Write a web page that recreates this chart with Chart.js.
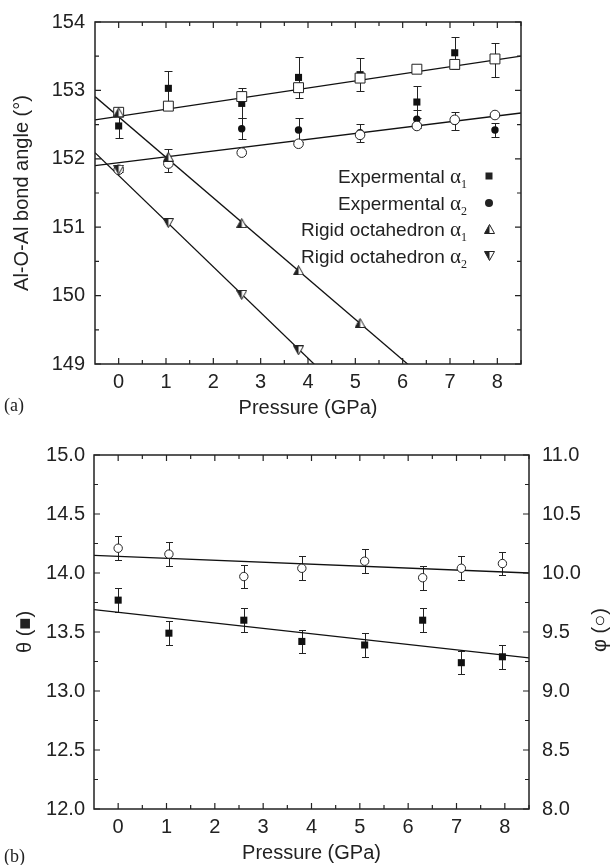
<!DOCTYPE html>
<html lang="en">
<head>
  <meta charset="UTF-8"/>
  <title>Al-O-Al bond angle vs pressure</title>
  <script src="https://cdn.jsdelivr.net/npm/chart.js"></script>
  <style>
    body { margin: 0; background: #fff; }
    .panel { position: absolute; left: 0; width: 613px; }
    #panelA { top: 0; height: 430px; }
    #panelB { top: 430px; height: 435px; }
  </style>
</head>
<body>
  <div class="panel" id="panelA"><canvas id="chartA" width="613" height="430"></canvas></div>
  <div class="panel" id="panelB"><canvas id="chartB" width="613" height="435"></canvas></div>

  <script>
    // ---- panel (a): bond angles ----
    const pressure = [0, 1.05, 2.6, 3.8, 5.1, 6.3, 7.1, 7.95];
    const expAlpha1 = [152.48, 153.03, 152.81, 153.19, 153.23, 152.83, 153.55, 153.45];
    const expAlpha1Err = [0.18, 0.26, 0.22, 0.30, 0.24, 0.23, 0.23, 0.25];
    const expAlpha2 = [151.84, 151.98, 152.44, 152.42, 152.38, 152.58, 152.55, 152.42];
    const expAlpha2Err = [0.04, 0.17, 0.15, 0.18, 0.13, 0.13, 0.13, 0.10];
    const openSquares = [152.68, 152.77, 152.91, 153.04, 153.18, 153.31, 153.38, 153.46];
    const openCircles = [151.84, 151.93, 152.09, 152.22, 152.35, 152.48, 152.57, 152.64];
    const rigidP1 = [0, 1.05, 2.6, 3.8, 5.1];
    const rigidAlpha1 = [152.68, 152.03, 151.06, 150.37, 149.60];
    const rigidP2 = [0, 1.05, 2.6, 3.8];
    const rigidAlpha2 = [151.84, 151.06, 150.01, 149.20];
    // straight fits, values at the two ends of the pressure axis
    const fitEnds = [-0.5, 8.5];
    const fitSquares = [152.57, 153.50];
    const fitCircles = [151.90, 152.67];
    const fitRigid1 = [152.91, 147.58];
    const fitRigid2 = [152.09, 146.08];
    const angleTicks = [149, 150, 151, 152, 153, 154];
    const pressureTicks = [0, 1, 2, 3, 4, 5, 6, 7, 8];
    const legendText = ['Expermental', 'Expermental', 'Rigid octahedron', 'Rigid octahedron'];
    const legendSub = ['1', '2', '1', '2'];

    // ---- panel (b): theta / phi ----
    const theta = [13.77, 13.49, 13.60, 13.42, 13.39, 13.60, 13.24, 13.29];
    const thetaErr = [0.10, 0.10, 0.10, 0.10, 0.10, 0.10, 0.10, 0.10];
    const phi = [10.21, 10.16, 9.97, 10.04, 10.10, 9.96, 10.04, 10.08];
    const phiErr = [0.10, 0.10, 0.10, 0.10, 0.10, 0.10, 0.10, 0.10];
    const fitTheta = [13.69, 13.28];
    const fitPhi = [10.15, 10.00];
    const thetaTicks = [12, 12.5, 13, 13.5, 14, 14.5, 15];
    const phiTicks = [8, 8.5, 9, 9.5, 10, 10.5, 11];

    const INK = '#222';
    const SANS = "'Liberation Sans', Arial, sans-serif";
    const SERIF = "'Liberation Serif', 'Times New Roman', serif";
    Chart.defaults.font.family = SANS;
    Chart.defaults.color = INK;

    const pts = (xs, ys) => xs.map((x, i) => ({ x: x, y: ys[i] }));
    const mids = arr => arr.slice(0, -1).map((v, i) => (v + arr[i + 1]) / 2);

    // half-filled triangles used by the rigid octahedron series
    function triangle(down) {
      const c = document.createElement('canvas');
      c.width = 11; c.height = 10;
      const g = c.getContext('2d');
      g.fillStyle = '#fff';
      g.strokeStyle = INK;
      g.lineWidth = 1;
      const p = down ? [[0.5, 0.5], [10.5, 0.5], [5.5, 9.5]] : [[5.5, 0.5], [10.5, 9.5], [0.5, 9.5]];
      g.beginPath(); g.moveTo(...p[0]); g.lineTo(...p[1]); g.lineTo(...p[2]); g.closePath();
      g.fill(); g.stroke();
      g.fillStyle = INK;
      g.beginPath();
      if (down) { g.moveTo(0.5, 0.5); g.lineTo(5.5, 0.5); g.lineTo(5.5, 9.5); }
      else { g.moveTo(5.5, 0.5); g.lineTo(5.5, 9.5); g.lineTo(0.5, 9.5); }
      g.closePath(); g.fill();
      return c;
    }
    const triUp = triangle(false);
    const triDown = triangle(true);

    const errorBars = {
      id: 'errorBars',
      beforeDatasetsDraw(chart) {
        const ctx = chart.ctx;
        ctx.save();
        ctx.strokeStyle = INK;
        ctx.lineWidth = 1;
        chart.data.datasets.forEach(ds => {
          if (!ds.errors) return;
          const xs = chart.scales.x, ys = chart.scales[ds.yAxisID || 'y'];
          const cap = ds.cap || 3.5;
          ds.data.forEach((p, j) => {
            const px = Math.round(xs.getPixelForValue(p.x)) + 0.5;
            const top = Math.round(ys.getPixelForValue(p.y + ds.errors[j])) + 0.5;
            const bot = Math.round(ys.getPixelForValue(p.y - ds.errors[j])) + 0.5;
            ctx.beginPath();
            ctx.moveTo(px, top); ctx.lineTo(px, bot);
            ctx.moveTo(px - cap, top); ctx.lineTo(px + cap, top);
            ctx.moveTo(px - cap, bot); ctx.lineTo(px + cap, bot);
            ctx.stroke();
          });
        });
        ctx.restore();
      }
    };

    // box around the plot with inward ticks on all four sides
    const frame = {
      id: 'frame',
      afterDatasetsDraw(chart, args, opts) {
        const { ctx, chartArea: a, scales } = chart;
        ctx.save();
        ctx.strokeStyle = INK;
        ctx.lineWidth = 1.5;
        ctx.strokeRect(a.left, a.top, a.right - a.left, a.bottom - a.top);
        ctx.lineWidth = 1.2;
        ctx.beginPath();
        const tickX = (vals, len) => vals.forEach(v => {
          const px = scales.x.getPixelForValue(v);
          ctx.moveTo(px, a.bottom); ctx.lineTo(px, a.bottom - len);
          ctx.moveTo(px, a.top); ctx.lineTo(px, a.top + len);
        });
        const tickY = (vals, len) => vals.forEach(v => {
          const py = scales.y.getPixelForValue(v);
          ctx.moveTo(a.left, py); ctx.lineTo(a.left + len, py);
          ctx.moveTo(a.right, py); ctx.lineTo(a.right - len, py);
        });
        tickX(opts.xMajor, 6); tickX(opts.xMinor, 4);
        tickY(opts.yMajor, 6); tickY(opts.yMinor, 4);
        ctx.stroke();
        ctx.restore();
      }
    };

    // panel letter, legend of panel (a), right title of panel (b)
    const notes = {
      id: 'notes',
      afterDraw(chart, args, opts) {
        const ctx = chart.ctx;
        ctx.save();
        ctx.fillStyle = INK;
        ctx.font = '18px ' + SERIF;
        ctx.textBaseline = 'middle';
        ctx.textAlign = 'left';
        ctx.fillText(opts.letter, 4, opts.letterY);

        if (opts.legend) {
          const baselines = [183, 210, 236, 263];
          const markers = ['square', 'circle', triUp, triDown];
          ctx.textBaseline = 'alphabetic';
          legendText.forEach((t, i) => {
            const y = baselines[i];
            let x = 467;
            ctx.textAlign = 'right';
            ctx.font = '12px ' + SERIF;
            ctx.fillText(legendSub[i], x, y + 5);
            x -= ctx.measureText(legendSub[i]).width;
            ctx.font = '21px ' + SERIF;
            ctx.fillText('\u03b1', x, y);
            x -= ctx.measureText('\u03b1').width;
            ctx.font = '19px ' + SANS;
            ctx.fillText(t + ' ', x, y);
            const m = markers[i], mx = 489, my = y - 7;
            if (m === 'square') ctx.fillRect(mx - 3.5, my - 3.5, 7, 7);
            else if (m === 'circle') { ctx.beginPath(); ctx.arc(mx, my, 4, 0, Math.PI * 2); ctx.fill(); }
            else ctx.drawImage(m, mx - 5, my - 5);
          });
        }

        if (opts.rightTitle) {
          ctx.translate(600, 200);
          ctx.rotate(-Math.PI / 2);
          ctx.textAlign = 'center';
          ctx.textBaseline = 'middle';
          ctx.font = '20px ' + SANS;
          ctx.fillText(opts.rightTitle, 0, 0);
        }
        ctx.restore();
      }
    };

    const tickFont = { size: 20 };
    const lineStyle = { showLine: true, pointRadius: 0, borderColor: '#111', borderWidth: 1.3, order: 10 };

    new Chart(document.getElementById('chartA'), {
      type: 'scatter',
      plugins: [errorBars, frame, notes],
      data: {
        datasets: [
          Object.assign({ data: pts(fitEnds, fitSquares) }, lineStyle),
          Object.assign({ data: pts(fitEnds, fitCircles) }, lineStyle),
          Object.assign({ data: pts(fitEnds, fitRigid1) }, lineStyle),
          Object.assign({ data: pts(fitEnds, fitRigid2) }, lineStyle),
          { label: 'Expermental a2', data: pts(pressure, expAlpha2), errors: expAlpha2Err, cap: 4,
            pointStyle: 'circle', pointRadius: 3.7, backgroundColor: '#111', borderColor: '#111', borderWidth: 0, order: 6 },
          { label: 'Expermental a1', data: pts(pressure, expAlpha1), errors: expAlpha1Err, cap: 4,
            pointStyle: 'rect', pointRadius: 5, backgroundColor: '#111', borderColor: '#111', borderWidth: 0, order: 5 },
          { data: pts(pressure, openCircles), pointStyle: 'circle', pointRadius: 4.8,
            backgroundColor: '#fff', borderColor: INK, borderWidth: 1, order: 4 },
          { data: pts(pressure, openSquares), pointStyle: 'rect', pointRadius: 7,
            backgroundColor: '#fff', borderColor: INK, borderWidth: 1, order: 3 },
          { label: 'Rigid octahedron a2', data: pts(rigidP2, rigidAlpha2), pointStyle: triDown, order: 2 },
          { label: 'Rigid octahedron a1', data: pts(rigidP1, rigidAlpha1), pointStyle: triUp, order: 1 }
        ]
      },
      options: {
        responsive: false,
        animation: false,
        events: [],
        layout: { padding: { top: 19, right: 92, left: 0, bottom: 0 } },
        plugins: {
          legend: { display: false },
          tooltip: { enabled: false },
          frame: { xMajor: pressureTicks, xMinor: mids(pressureTicks).concat([8.5]), yMajor: angleTicks, yMinor: mids(angleTicks) },
          notes: { letter: '(a)', letterY: 406, legend: true }
        },
        scales: {
          x: {
            type: 'linear', position: 'bottom', min: -0.5, max: 8.5,
            afterBuildTicks: s => { s.ticks = pressureTicks.map(v => ({ value: v })); },
            afterFit: s => { s.height = 66; },
            ticks: { font: tickFont, padding: 6, autoSkip: false, maxRotation: 0 },
            grid: { display: false, drawTicks: false },
            border: { display: false },
            title: { display: true, text: 'Pressure (GPa)', font: { size: 20 }, padding: { top: 0, bottom: 10 } }
          },
          y: {
            type: 'linear', position: 'left', min: 149, max: 154,
            afterBuildTicks: s => { s.ticks = angleTicks.map(v => ({ value: v })); },
            afterFit: s => { s.width = 95; },
            ticks: { font: tickFont, padding: 10, autoSkip: false },
            grid: { display: false, drawTicks: false },
            border: { display: false },
            title: { display: true, text: 'Al-O-Al bond angle (\u00b0)', font: { size: 20 }, padding: { top: 10, bottom: 0 } }
          }
        }
      }
    });

    new Chart(document.getElementById('chartB'), {
      type: 'scatter',
      plugins: [errorBars, frame, notes],
      data: {
        datasets: [
          Object.assign({ data: pts(fitEnds, fitTheta), yAxisID: 'y' }, lineStyle),
          Object.assign({ data: pts(fitEnds, fitPhi), yAxisID: 'yR' }, lineStyle),
          { label: 'theta', data: pts(pressure, theta), errors: thetaErr, cap: 3.5, yAxisID: 'y',
            pointStyle: 'rect', pointRadius: 5, backgroundColor: '#111', borderColor: '#111', borderWidth: 0, order: 2 },
          { label: 'phi', data: pts(pressure, phi), errors: phiErr, cap: 3.5, yAxisID: 'yR',
            pointStyle: 'circle', pointRadius: 4.2, backgroundColor: '#fff', borderColor: INK, borderWidth: 1, order: 1 }
        ]
      },
      options: {
        responsive: false,
        animation: false,
        events: [],
        layout: { padding: { top: 24, right: 0, left: 0, bottom: 0 } },
        plugins: {
          legend: { display: false },
          tooltip: { enabled: false },
          frame: { xMajor: pressureTicks, xMinor: mids(pressureTicks).concat([8.5]), yMajor: thetaTicks, yMinor: mids(thetaTicks) },
          notes: { letter: '(b)', letterY: 427, rightTitle: '\u03c6 (\u25cb)' }
        },
        scales: {
          x: {
            type: 'linear', position: 'bottom', min: -0.5, max: 8.5,
            afterBuildTicks: s => { s.ticks = pressureTicks.map(v => ({ value: v })); },
            afterFit: s => { s.height = 56; },
            ticks: { font: tickFont, padding: 6, autoSkip: false, maxRotation: 0 },
            grid: { display: false, drawTicks: false },
            border: { display: false },
            title: { display: true, text: 'Pressure (GPa)', font: { size: 20 }, padding: { top: 0, bottom: 0 } }
          },
          y: {
            type: 'linear', position: 'left', min: 12, max: 15,
            afterBuildTicks: s => { s.ticks = thetaTicks.map(v => ({ value: v })); },
            afterFit: s => { s.width = 94; },
            ticks: { font: tickFont, padding: 9, autoSkip: false, callback: v => v.toFixed(1) },
            grid: { display: false, drawTicks: false },
            border: { display: false },
            title: { display: true, text: '\u03b8 (\u25a0)', font: { size: 20 }, padding: { top: 13, bottom: 0 } }
          },
          yR: {
            type: 'linear', position: 'right', min: 8, max: 11,
            afterBuildTicks: s => { s.ticks = phiTicks.map(v => ({ value: v })); },
            afterFit: s => { s.width = 84; },
            ticks: { font: tickFont, padding: 13, autoSkip: false, callback: v => v.toFixed(1) },
            grid: { display: false, drawTicks: false },
            border: { display: false }
          }
        }
      }
    });
  </script>
</body>
</html>
